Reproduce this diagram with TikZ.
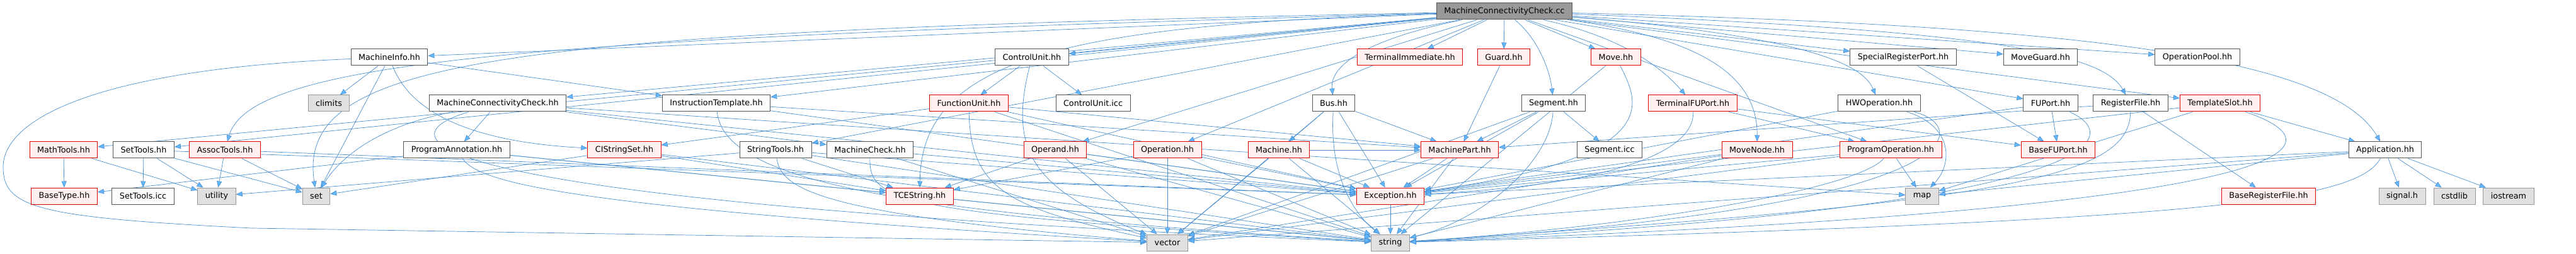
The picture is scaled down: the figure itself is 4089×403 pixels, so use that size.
\documentclass[tikz,border=0pt]{standalone}
\usepackage{fontspec}
\setmainfont{DejaVu Sans}
\usetikzlibrary{arrows.meta}
\definecolor{DepLine}{HTML}{4A90D0}
\definecolor{DepHead}{HTML}{63B8FF}
\definecolor{DocLine}{HTML}{555555}
\definecolor{DocFill}{HTML}{FBFDFB}
\definecolor{MainFill}{HTML}{999999}
\definecolor{RedLine}{HTML}{E00000}
\definecolor{RedFill}{HTML}{FFF0F0}
\definecolor{SysLine}{HTML}{999999}
\definecolor{SysFill}{HTML}{E0E0E0}
\pgfdeclarelayer{paper}
\pgfdeclarelayer{edges}
\pgfsetlayers{paper,edges,main}
\tikzset{
  filebox/.style={draw=DocLine,fill=DocFill,line width=1pt,minimum height=26pt,
    inner xsep=12pt,inner ysep=0pt,font=\fontsize{12.8}{15}\selectfont},
  redbox/.style={filebox,draw=RedLine,fill=RedFill},
  sysbox/.style={filebox,draw=SysLine,fill=SysFill},
  mainbox/.style={filebox,draw=DocLine,fill=MainFill},
  dep/.style={draw=DepLine,line width=0.7pt,
    -{Triangle[length=10pt,width=8pt,fill=DepHead]}}
}
\begin{document}
\begin{tikzpicture}[x=1pt,y=-1pt]
  \begin{pgfonlayer}{paper}
  \fill[white] (0,0) rectangle (4089,403);
  \end{pgfonlayer}
  \useasboundingbox (0,0) rectangle (4089,403);
  % row 0
  \node[mainbox] (mcccc) at (2388,18) {MachineConnectivityCheck.cc};
  % row 1
  \node[filebox] (minfo) at (618,91) {MachineInfo.hh};
  \node[filebox] (cunit) at (1638,91) {ControlUnit.hh};
  \node[redbox] (termimm) at (2238,91) {TerminalImmediate.hh};
  \node[redbox] (guard) at (2387,91) {Guard.hh};
  \node[redbox] (move) at (2565,91) {Move.hh};
  \node[filebox] (srport) at (3021,91) {SpecialRegisterPort.hh};
  \node[filebox] (mguard) at (3239,91) {MoveGuard.hh};
  \node[filebox] (opool) at (3488,91) {OperationPool.hh};
  % row 2
  \node[sysbox] (climits) at (522,164) {climits};
  \node[filebox] (mcchh) at (790,164) {MachineConnectivityCheck.hh};
  \node[filebox] (itempl) at (1137,164) {InstructionTemplate.hh};
  \node[redbox] (funit) at (1538,164) {FunctionUnit.hh};
  \node[filebox] (cuicc) at (1735,164) {ControlUnit.icc};
  \node[filebox] (bus) at (2117,164) {Bus.hh};
  \node[filebox] (segment) at (2466,164) {Segment.hh};
  \node[redbox] (tfuport) at (2687,164) {TerminalFUPort.hh};
  \node[filebox] (hwop) at (2983,164) {HWOperation.hh};
  \node[filebox] (fuport) at (3255,164) {FUPort.hh};
  \node[filebox] (regfile) at (3382,164) {RegisterFile.hh};
  \node[redbox] (tslot) at (3524,164) {TemplateSlot.hh};
  % row 3
  \node[redbox] (mathtools) at (101,238) {MathTools.hh};
  \node[filebox] (settools) at (228,238) {SetTools.hh};
  \node[redbox] (assoctools) at (357,238) {AssocTools.hh};
  \node[filebox] (progann) at (725,238) {ProgramAnnotation.hh};
  \node[redbox] (cistrset) at (991,238) {CIStringSet.hh};
  \node[filebox] (strtools) at (1231,238) {StringTools.hh};
  \node[filebox] (mcheck) at (1381,238) {MachineCheck.hh};
  \node[redbox] (operand) at (1675,238) {Operand.hh};
  \node[redbox] (operation) at (1853,238) {Operation.hh};
  \node[redbox] (machine) at (2030,238) {Machine.hh};
  \node[redbox] (mpart) at (2317,238) {MachinePart.hh};
  \node[filebox] (segicc) at (2555,238) {Segment.icc};
  \node[redbox] (movenode) at (2789,238) {MoveNode.hh};
  \node[redbox] (progop) at (3001,238) {ProgramOperation.hh};
  \node[redbox] (basefuport) at (3267,238) {BaseFUPort.hh};
  \node[filebox] (application) at (3786,238) {Application.hh};
  % row 4
  \node[redbox] (basetype) at (102,311) {BaseType.hh};
  \node[filebox] (settoolsicc) at (227,311) {SetTools.icc};
  \node[sysbox] (utility) at (344,311) {utility};
  \node[sysbox] (set) at (502,311) {set};
  \node[redbox] (tcestring) at (1460,311) {TCEString.hh};
  \node[redbox] (exception) at (2207,311) {Exception.hh};
  \node[sysbox] (map) at (3051,311) {map};
  \node[redbox] (baserf) at (3601,311) {BaseRegisterFile.hh};
  \node[sysbox] (signal) at (3813,311) {signal.h};
  \node[sysbox] (cstdlib) at (3896,311) {cstdlib};
  \node[sysbox] (iostream) at (3982,311) {iostream};
  % row 5
  \node[sysbox] (vector) at (1853,385) {vector};
  \node[sysbox] (string) at (2207,385) {string};

  \begin{pgfonlayer}{edges}
  % includes of the source file
  \draw[dep] (mcccc) -- (minfo);
  \draw[dep] (mcccc) -- (cunit);
  \draw[dep] (mcccc) -- (termimm);
  \draw[dep] (mcccc) -- (guard);
  \draw[dep] (mcccc) -- (move);
  \draw[dep] (mcccc) -- (srport);
  \draw[dep] (mcccc) -- (mguard);
  \draw[dep] (mcccc) -- (opool);
  \draw[dep] (mcccc) -- (mcchh);
  \draw[dep] (mcccc) -- (itempl);
  \draw[dep] (mcccc) .. controls (2180,60) and (2110,100) .. (bus);
  \draw[dep] (mcccc) .. controls (2440,60) and (2460,110) .. (segment);
  \draw[dep] (mcccc) .. controls (2580,60) and (2640,110) .. (tfuport);
  \draw[dep] (mcccc) .. controls (2900,60) and (2960,110) .. (hwop);
  \draw[dep] (mcccc) -- (fuport);
  \draw[dep] (mcccc) .. controls (3200,50) and (3340,90) .. (regfile);
  \draw[dep] (mcccc) -- (tslot);
  \draw[dep] (mcccc) -- (mathtools);
  \draw[dep] (mcccc) -- (settools);
  \draw[dep] (mcccc) .. controls (900,60) and (400,90) .. (assoctools);
  \draw[dep] (mcccc) .. controls (800,50) and (470,90) .. (set);
  \draw[dep] (mcccc) -- (strtools);
  \draw[dep] (mcccc) .. controls (1700,40) and (1462,90) .. (tcestring);
  \draw[dep] (mcccc) -- (operand);
  \draw[dep] (mcccc) -- (operation);
  \draw[dep] (mcccc) .. controls (2700,60) and (2790,120) .. (movenode);
  \draw[dep] (mcccc) -- (progop);
  \draw[dep] (mcccc) .. controls (3300,40) and (3700,90) .. (application);
  % second level
  \draw[dep] (minfo) -- (climits);
  \draw[dep] (minfo) -- (set);
  \draw[dep] (minfo) .. controls (660,200) and (800,228) .. (cistrset);
  \draw[dep] (minfo) -- (itempl);
  \draw[dep] (minfo) .. controls (150,110) and (5,190) .. (5,265)
    .. controls (5,330) and (60,345) .. (400,362) -- (vector);
  \draw[dep] (cunit) -- (funit);
  \draw[dep] (cunit) -- (cuicc);
  \draw[dep] (cunit) .. controls (1600,240) and (1640,300) .. (vector);
  \draw[dep] (mcchh) -- (progann);
  \draw[dep] (mcchh) -- (mcheck);
  \draw[dep] (mcchh) .. controls (600,200) and (540,250) .. (set);
  \draw[dep] (mcchh) .. controls (600,220) and (640,320) .. (string);
  \draw[dep] (mcchh) -- (map);
  \draw[dep] (mcchh) -- (exception);
  \draw[dep] (itempl) -- (mpart);
  \draw[dep] (itempl) -- (exception);
  \draw[dep] (itempl) .. controls (1150,300) and (1500,340) .. (string);
  \draw[dep] (funit) -- (cistrset);
  \draw[dep] (funit) -- (mpart);
  \draw[dep] (funit) -- (exception);
  \draw[dep] (funit) .. controls (1540,300) and (1600,330) .. (vector);
  \draw[dep] (funit) -- (string);
  \draw[dep] (bus) -- (machine);
  \draw[dep] (bus) -- (mpart);
  \draw[dep] (bus) -- (exception);
  \draw[dep] (bus) .. controls (2110,280) and (2150,340) .. (string);
  \draw[dep] (bus) -- (vector);
  \draw[dep] (segment) -- (mpart);
  \draw[dep] (segment) -- (exception);
  \draw[dep] (segment) .. controls (2460,260) and (2350,350) .. (string);
  \draw[dep] (segment) -- (segicc);
  \draw[dep] (segment) -- (vector);
  \draw[dep] (guard) -- (mpart);
  \draw[dep] (tfuport) -- (progop);
  \draw[dep] (tfuport) -- (basefuport);
  \draw[dep] (tfuport) .. controls (2690,230) and (2600,290) .. (exception);
  \draw[dep] (move) .. controls (2600,160) and (2650,250) .. (exception);
  \draw[dep] (move) -- (string);
  \draw[dep] (hwop) .. controls (3100,200) and (3100,260) .. (map);
  \draw[dep] (hwop) -- (exception);
  \draw[dep] (hwop) .. controls (3130,200) and (3140,330) .. (string);
  \draw[dep] (srport) -- (basefuport);
  \draw[dep] (fuport) -- (basefuport);
  \draw[dep] (fuport) .. controls (3380,220) and (3330,330) .. (string);
  \draw[dep] (fuport) -- (exception);
  \draw[dep] (regfile) -- (baserf);
  \draw[dep] (regfile) .. controls (3380,280) and (3200,320) .. (string);
  \draw[dep] (regfile) -- (mpart);
  \draw[dep] (tslot) -- (map);
  \draw[dep] (tslot) -- (exception);
  \draw[dep] (tslot) -- (application);
  \draw[dep] (tslot) .. controls (3720,230) and (3700,330) .. (string);
  % lower levels
  \draw[dep] (mathtools) -- (basetype);
  \draw[dep] (mathtools) -- (utility);
  \draw[dep] (settools) -- (settoolsicc);
  \draw[dep] (settools) -- (utility);
  \draw[dep] (settools) -- (set);
  \draw[dep] (settools) -- (exception);
  \draw[dep] (assoctools) -- (utility);
  \draw[dep] (assoctools) -- (set);
  \draw[dep] (assoctools) -- (exception);
  \draw[dep] (progann) -- (basetype);
  \draw[dep] (progann) .. controls (760,290) and (900,330) .. (vector);
  \draw[dep] (progann) -- (string);
  \draw[dep] (progann) -- (tcestring);
  \draw[dep] (cistrset) -- (set);
  \draw[dep] (cistrset) -- (tcestring);
  \draw[dep] (cistrset) -- (string);
  \draw[dep] (strtools) -- (tcestring);
  \draw[dep] (strtools) -- (utility);
  \draw[dep] (strtools) .. controls (1240,300) and (1300,340) .. (vector);
  \draw[dep] (strtools) -- (string);
  \draw[dep] (strtools) -- (exception);
  \draw[dep] (mcheck) .. controls (1380,320) and (1420,340) .. (string);
  \draw[dep] (mcheck) -- (exception);
  \draw[dep] (mcheck) -- (vector);
  \draw[dep] (operand) -- (tcestring);
  \draw[dep] (operand) -- (exception);
  \draw[dep] (operand) -- (string);
  \draw[dep] (operand) -- (vector);
  \draw[dep] (operation) -- (vector);
  \draw[dep] (operation) -- (exception);
  \draw[dep] (operation) -- (string);
  \draw[dep] (operation) -- (tcestring);
  \draw[dep] (machine) -- (exception);
  \draw[dep] (machine) -- (string);
  \draw[dep] (machine) -- (vector);
  \draw[dep] (machine) -- (mpart);
  \draw[dep] (mpart) -- (exception);
  \draw[dep] (mpart) -- (string);
  \draw[dep] (mpart) -- (vector);
  \draw[dep] (movenode) -- (exception);
  \draw[dep] (movenode) -- (string);
  \draw[dep] (movenode) -- (vector);
  \draw[dep] (progop) -- (map);
  \draw[dep] (progop) -- (exception);
  \draw[dep] (progop) .. controls (2950,300) and (2600,360) .. (string);
  \draw[dep] (progop) -- (vector);
  \draw[dep] (application) -- (signal);
  \draw[dep] (application) -- (cstdlib);
  \draw[dep] (application) -- (iostream);
  \draw[dep] (application) -- (map);
  \draw[dep] (application) .. controls (3740,320) and (3500,350) .. (string);
  \draw[dep] (application) -- (exception);
  \draw[dep] (application) -- (vector);
  \draw[dep] (tcestring) -- (string);
  \draw[dep] (exception) -- (string);
  \end{pgfonlayer}
\end{tikzpicture}
\end{document}
